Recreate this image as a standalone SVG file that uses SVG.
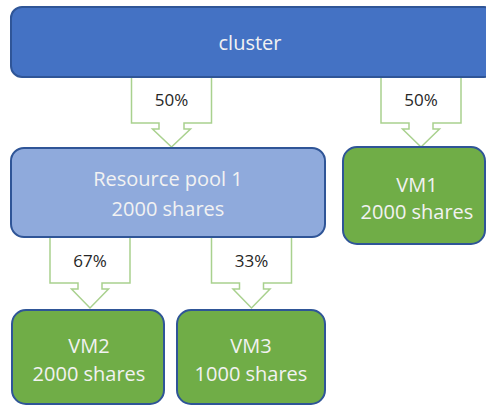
<svg xmlns="http://www.w3.org/2000/svg" width="486" height="406" viewBox="0 0 486 406">
<style>
.arrow{fill:#ffffff;stroke:#a9d18e;stroke-width:1.5;stroke-linejoin:miter}
.cluster{fill:#4472c4;stroke:#2f5597;stroke-width:2}
.pool{fill:#8faadc;stroke:#2f5597;stroke-width:2}
.vm{fill:#70ad47;stroke:#2f5597;stroke-width:2}
.lbl{font-family:"Open Sans","Noto Sans",sans-serif;font-size:20px;fill:#f2f2f2;text-anchor:middle}
.pct{font-family:"Open Sans","Noto Sans",sans-serif;font-size:17px;fill:#262626;text-anchor:middle}
</style>
<rect width="486" height="406" fill="#ffffff"/>
<g id="connectors">
  <g id="c-cluster-pool">
    <path class="arrow" d="M131.5,77 H211.5 V123 H184 V129 H190.5 L171.5,147 L152.5,129 H159 V123 H131.5 Z"/>
    <text class="pct" x="171.5" y="106">50%</text>
  </g>
  <g id="c-cluster-vm1">
    <path class="arrow" d="M381,77 H461 V123 H433 V129 H439.5 L421,147 L402.5,129 H409 V123 H381 Z"/>
    <text class="pct" x="421" y="106">50%</text>
  </g>
  <g id="c-pool-vm2">
    <path class="arrow" d="M50,237 H130 V283 H102 V289 H108.5 L90,308 L71.5,289 H78 V283 H50 Z"/>
    <text class="pct" x="90" y="267">67%</text>
  </g>
  <g id="c-pool-vm3">
    <path class="arrow" d="M211.5,237 H291.5 V283 H263.5 V289 H270 L251.5,308 L233,289 H239.5 V283 H211.5 Z"/>
    <text class="pct" x="251.5" y="267">33%</text>
  </g>
</g>
<g id="cluster">
  <rect class="cluster" x="11" y="7" width="484" height="70" rx="11"/>
  <text class="lbl" x="250" y="50">cluster</text>
</g>
<g id="pool1">
  <rect class="pool" x="11" y="148" width="314" height="89" rx="13"/>
  <text class="lbl" x="168" y="186">Resource pool 1</text>
  <text class="lbl" x="168" y="216">2000 shares</text>
</g>
<g id="vm1">
  <rect class="vm" x="343" y="147" width="142" height="97" rx="14"/>
  <text class="lbl" x="417" y="192">VM1</text>
  <text class="lbl" x="417" y="219">2000 shares</text>
</g>
<g id="vm2">
  <rect class="vm" x="12" y="310" width="152" height="94" rx="14"/>
  <text class="lbl" x="89" y="353">VM2</text>
  <text class="lbl" x="89" y="381">2000 shares</text>
</g>
<g id="vm3">
  <rect class="vm" x="177" y="310" width="148" height="94" rx="14"/>
  <text class="lbl" x="251" y="353">VM3</text>
  <text class="lbl" x="251" y="381">1000 shares</text>
</g>
</svg>
